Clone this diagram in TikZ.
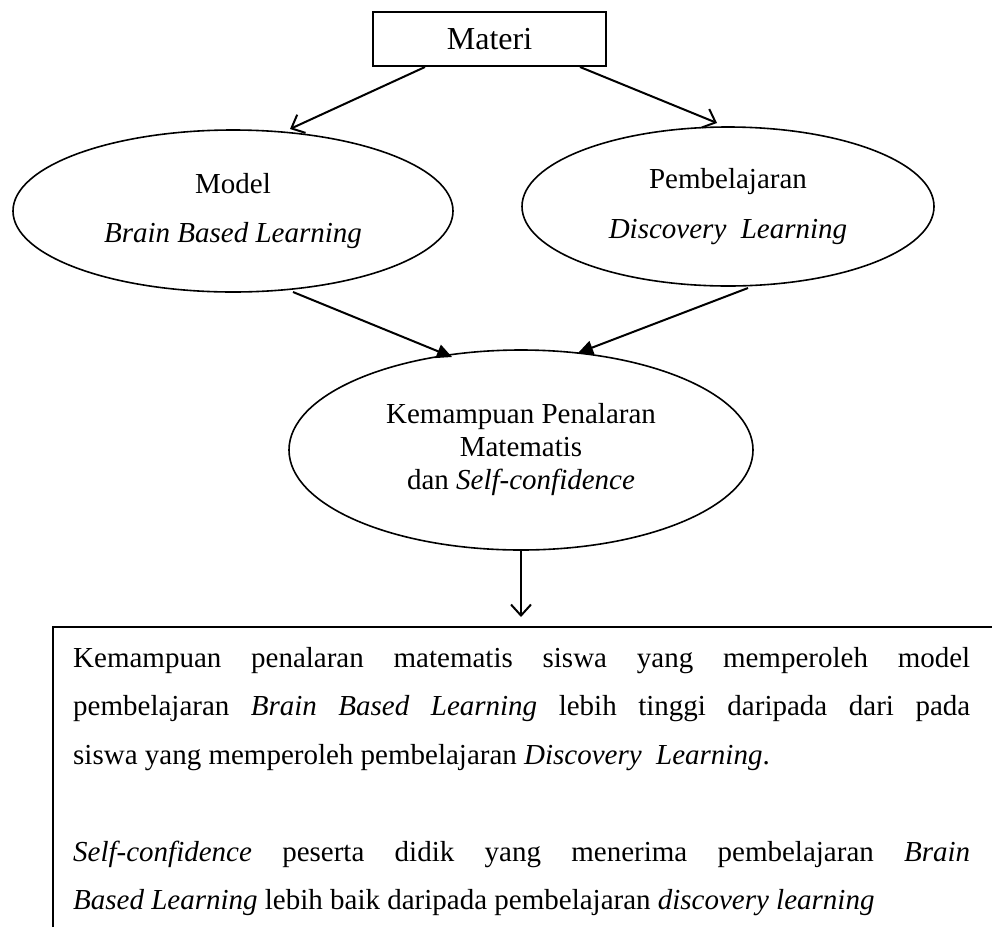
\documentclass[tikz,border=0pt]{standalone}
\usepackage{fontspec}
\setmainfont{Liberation Serif}
\usetikzlibrary{shapes.geometric,arrows.meta}
\begin{document}
\begin{tikzpicture}[x=1pt,y=-1pt,
  ell/.style={draw,ellipse,line width=1.6pt,inner sep=0pt,align=center},
  barb/.style={line width=2pt,-{Straight Barb[length=11pt,width=20pt,line width=2pt]}},
  tri/.style={line width=2pt,-{Triangle[length=15pt,width=14pt]}},
]
\useasboundingbox (0,0) rectangle (992,927);

\node[draw,line width=1.5pt,minimum width=233pt,minimum height=54pt,inner sep=0pt,
      font=\fontsize{32}{36}\selectfont] (m) at (489.5,39) {Materi};

\node[ell,minimum width=440pt,minimum height=162pt,font=\fontsize{29}{49}\selectfont] (l) at (233,211)
  {Model\\\textit{Brain Based Learning}};
\node[ell,minimum width=412pt,minimum height=159pt,font=\fontsize{29}{50}\selectfont] (r) at (728,206.5)
  {Pembelajaran\\\textit{Discovery\ \ Learning}};
\node[ell,minimum width=464pt,minimum height=200pt,font=\fontsize{29}{33}\selectfont] (c) at (521,450)
  {Kemampuan Penalaran\\Matematis\\dan \textit{Self-confidence}};

\coordinate (ms1) at (425,67);
\coordinate (ms2) at (580,67);
\coordinate (lt) at (290,129);
\coordinate (rt) at (717,123);
\coordinate (lb) at (293,292);
\coordinate (rb) at (748,288);
\coordinate (ct1) at (452,357);
\coordinate (ct2) at (578,353);
\coordinate (dn) at (521,617);

\draw[barb] (ms1) -- (lt);
\draw[barb] (ms2) -- (rt);
\draw[tri] (lb) -- (ct1);
\draw[tri] (rb) -- (ct2);
\draw[barb] (c.south) -- (dn);

\draw[line width=1.6pt] (53,927) -- (53,627) -- (992,627);

\node[anchor=north west,inner sep=0pt,text width=897pt,align=justify,
      font=\fontsize{29}{48.5}\selectfont] (t) at (73,647)
{\parindent=0pt Kemampuan penalaran matematis siswa yang memperoleh model\linebreak
pembelajaran \textit{Brain Based Learning} lebih tinggi daripada dari pada\linebreak
siswa yang memperoleh pembelajaran \textit{Discovery\ \ Learning}.\par
\vskip48.5pt
\textit{Self-confidence} peserta didik yang menerima pembelajaran \textit{Brain}\linebreak
\textit{Based Learning} lebih baik daripada pembelajaran \textit{discovery learning}\par};
\end{tikzpicture}
\end{document}
